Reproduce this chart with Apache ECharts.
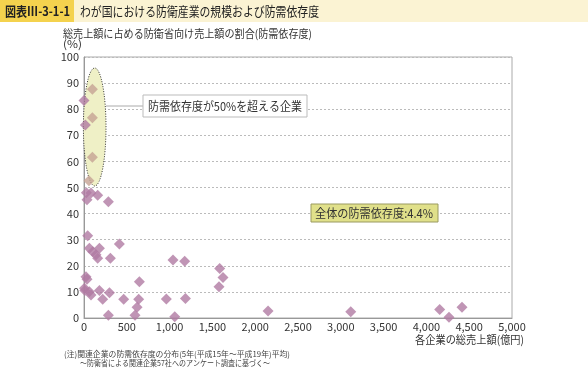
<!DOCTYPE html>
<html><head><meta charset="utf-8">
<script src="https://cdn.jsdelivr.net/npm/echarts@6/dist/echarts.min.js"></script>
<style>html,body{margin:0;padding:0;background:#fff}#c{width:588px;height:369px}</style>
</head><body><div id="c"></div>
<script>
// Companies with dependency over 50% (inside the ellipse)
const over50X = [98, 98, 98, 58];
const over50Y = [87.6, 76.7, 61.6, 52.6];
// Other companies: total sales (100M yen) and dependency (%)
const salesX = [0, 16, 28, 35, 82, 160, 285,
  43, 63, 102, 140, 180, 160, 308, 413,
  23, 35, 5, 10, 63, 82, 180, 297, 218, 464, 285, 647, 639, 620, 596,
  962, 1040, 1176, 1060, 1185,
  1585, 1624, 1577, 2150, 3116, 4155, 4264, 4416];
const depY = [83.3, 73.9, 48.0, 45.3, 47.9, 47.0, 44.5,
  31.5, 26.7, 25.4, 24.2, 26.7, 22.9, 22.9, 28.4,
  15.8, 14.8, 11.4, 10.5, 10.1, 8.8, 10.5, 9.7, 7.2, 7.2, 1.1, 13.9, 7.2, 4.1, 1.1,
  7.3, 22.2, 21.7, 0.5, 7.5,
  19.0, 15.5, 12.0, 2.7, 2.4, 3.3, 0.3, 4.1];
const yTicks = [0,10,20,30,40,50,60,70,80,90,100];
const xTicks = [0,500,1000,1500,2000,2500,3000,3500,4000,4500,5000];

const FONT = '"Noto Sans CJK JP", "Noto Sans", sans-serif';
const cv = document.createElement('canvas').getContext('2d');
function fit(text, font, x1, x2, cy, fill, z){
  cv.font = font;
  const w = cv.measureText(text).width;
  return {type:'text', x:x1, y:cy, scaleX:(x2-x1)/w, z:z||5,
    style:{text:text, font:font, fill:fill||'#333', verticalAlign:'middle', align:'left'}};
}
const chart = echarts.init(document.getElementById('c'), null, {renderer:'canvas'});
const zip = (a,b)=>a.map((v,i)=>[v,b[i]]);
chart.setOption({
  animation:false,
  textStyle:{fontFamily:FONT},
  grid:{left:84,right:76,top:57,bottom:51,show:true,borderColor:'#aaa',borderWidth:1},
  xAxis:{type:'value',min:xTicks[0],max:xTicks[xTicks.length-1],interval:500,
    axisLine:{lineStyle:{color:'#999'}},axisTick:{show:false},
    splitLine:{show:false},
    axisLabel:{color:'#333',fontSize:11,margin:3,fontFamily:FONT,
      formatter:v=>v.toLocaleString('en-US')}},
  yAxis:{type:'value',min:yTicks[0],max:yTicks[yTicks.length-1],interval:10,
    axisLine:{show:true,lineStyle:{color:'#999'}},axisTick:{show:false},
    splitLine:{lineStyle:{color:'#bbb',type:[2,2]}},
    axisLabel:{color:'#333',fontSize:11,margin:5,fontFamily:FONT}},
  series:[
    {type:'scatter',symbol:'diamond',symbolSize:11,z:5,
      itemStyle:{color:'#b07aa2'},data:zip(salesX,depY)},
    {type:'scatter',symbol:'diamond',symbolSize:11,z:5,
      itemStyle:{color:'#c6a294'},data:zip(over50X,over50Y)}
  ],
  graphic:[
    {type:'rect',x:0,y:0,shape:{width:588,height:22},style:{fill:'#fbf3d3'},z:9},
    {type:'rect',x:0,y:0,shape:{width:74,height:22},style:{fill:'#f4d24e'},z:10},
    fit('図表Ⅲ-3-1-1','bold 13px '+FONT,5,70,11,'#222',11),
    fit('わが国における防衛産業の規模および防需依存度','13px '+FONT,80,319,11,'#222',11),
    fit('総売上額に占める防衛省向け売上額の割合(防需依存度)','11px '+FONT,63,312,33.5,'#333'),
    fit('(%)','11px '+FONT,63,82,44,'#333'),
    {type:'ellipse',shape:{cx:94.7,cy:127,rx:11.3,ry:59},
      style:{fill:'#eff0c6',stroke:'#333',lineWidth:1,lineDash:[1,1.5]},z:1,silent:true},
    {type:'line',shape:{x1:106,y1:106,x2:143,y2:106},style:{stroke:'#aaa',lineWidth:1},z:3},
    {type:'rect',shape:{x:143,y:95,width:164,height:22},style:{fill:'#fff',stroke:'#bbb',lineWidth:1},z:3},
    fit('防需依存度が50%を超える企業','12px '+FONT,148,302,106,'#333'),
    {type:'rect',shape:{x:311,y:204,width:127,height:18},style:{fill:'#e0e08a',stroke:'#9a9a60',lineWidth:1},z:3},
    fit('全体の防需依存度:4.4%','12px '+FONT,315,433,213,'#333'),
    fit('各企業の総売上額(億円)','11px '+FONT,415,524,339.5,'#333'),
    fit('(注)関連企業の防需依存度の分布(5年(平成15年～平成19年)平均)','8px '+FONT,64,290,354,'#444'),
    fit('～防衛省による関連企業57社へのアンケート調査に基づく～','8px '+FONT,80,270,362.5,'#444')
  ]
});
</script></body></html>
